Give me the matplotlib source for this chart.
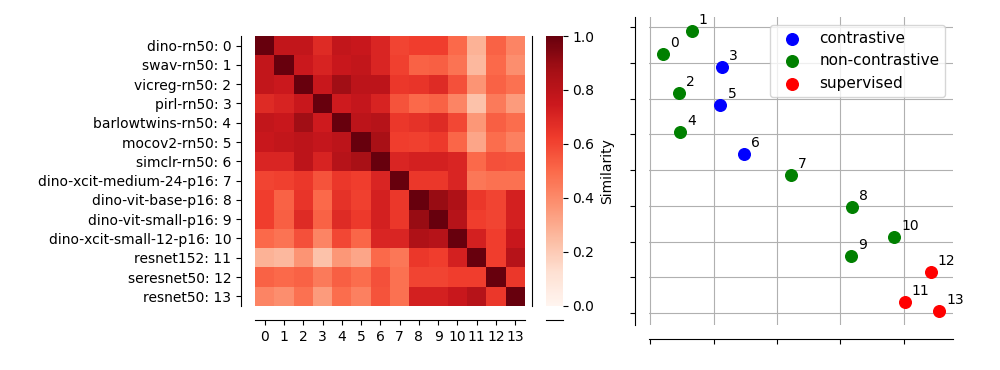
import numpy as np
import matplotlib
matplotlib.use('Agg')
import matplotlib.pyplot as plt
import matplotlib.ticker as mt
import seaborn as sns

names = ['dino-rn50', 'swav-rn50', 'vicreg-rn50', 'pirl-rn50', 'barlowtwins-rn50',
         'mocov2-rn50', 'simclr-rn50', 'dino-xcit-medium-24-p16', 'dino-vit-base-p16',
         'dino-vit-small-p16', 'dino-xcit-small-12-p16', 'resnet152', 'seresnet50', 'resnet50']

# upper triangle of the similarity matrix, row i holds columns i+1..13
upper = [
    [0.78, 0.78, 0.68, 0.78, 0.76, 0.70, 0.60, 0.62, 0.62, 0.50, 0.28, 0.52, 0.42],
    [0.75, 0.71, 0.76, 0.78, 0.70, 0.61, 0.52, 0.53, 0.47, 0.26, 0.50, 0.39],
    [0.76, 0.88, 0.80, 0.80, 0.64, 0.65, 0.68, 0.57, 0.37, 0.52, 0.48],
    [0.74, 0.77, 0.71, 0.56, 0.50, 0.52, 0.42, 0.23, 0.45, 0.35],
    [0.80, 0.82, 0.64, 0.66, 0.68, 0.59, 0.36, 0.53, 0.49],
    [0.86, 0.62, 0.61, 0.63, 0.51, 0.32, 0.49, 0.43],
    [0.70, 0.72, 0.72, 0.70, 0.50, 0.57, 0.56],
    [0.64, 0.64, 0.70, 0.46, 0.48, 0.48],
    [0.90, 0.84, 0.64, 0.60, 0.72],
    [0.82, 0.62, 0.60, 0.72],
    [0.72, 0.62, 0.76],
    [0.62, 0.82],
    [0.64],
]

# 2d embedding of the models
emb_x = [-0.180, -0.134, -0.155, -0.087, -0.153, -0.089, -0.052,
         0.022, 0.118, 0.117, 0.185, 0.202, 0.243, 0.256]
emb_y = [0.326, 0.389, 0.216, 0.288, 0.108, 0.182, 0.044,
         -0.013, -0.104, -0.239, -0.188, -0.370, -0.284, -0.394]
kind = ['non-contrastive', 'non-contrastive', 'non-contrastive', 'contrastive',
        'non-contrastive', 'contrastive', 'contrastive', 'non-contrastive',
        'non-contrastive', 'non-contrastive', 'non-contrastive',
        'supervised', 'supervised', 'supervised']
kinds = ['contrastive', 'non-contrastive', 'supervised']
kind_colors = ['blue', 'green', 'red']

n = len(names)
sim = np.eye(n)
for i, row in enumerate(upper):
    for k, v in enumerate(row):
        sim[i, i + 1 + k] = v
        sim[i + 1 + k, i] = v

labels = [f'{nm}: {i}' for i, nm in enumerate(names)]

fig = plt.figure(figsize=(10, 3.7), dpi=100)
ax1 = fig.add_axes([0.255, 0.173, 0.27, 0.7297])
cax = fig.add_axes([0.546, 0.173, 0.0165, 0.7297])
ax2 = fig.add_axes([0.649, 0.1216, 0.304, 0.8324])

sns.heatmap(sim, ax=ax1, cbar_ax=cax, cmap='Reds', vmin=0, vmax=1, square=True,
            xticklabels=list(range(n)), yticklabels=labels,
            cbar_kws={'label': 'Similarity'})
plt.setp(ax1.get_xticklabels(), rotation=0)
plt.setp(ax1.get_yticklabels(), rotation=0)

ex = np.array(emb_x)
ey = np.array(emb_y)
kk = np.array(kind)
for k, c in zip(kinds, kind_colors):
    m = kk == k
    ax2.scatter(ex[m], ey[m], s=70, color=c, label=k, zorder=3)
for i in range(n):
    ax2.annotate(str(i), (emb_x[i], emb_y[i]), xytext=(5, 5), textcoords='offset points')
ax2.xaxis.set_major_locator(mt.MultipleLocator(0.1))
ax2.yaxis.set_major_locator(mt.MultipleLocator(0.1))
ax2.tick_params(labelleft=False, labelbottom=False)
ax2.grid(True)
ax2.set_axisbelow(True)
ax2.legend(loc='upper right', fontsize=11)

sns.despine(fig=fig, offset=10)

fig.savefig('out.png', dpi=100)
